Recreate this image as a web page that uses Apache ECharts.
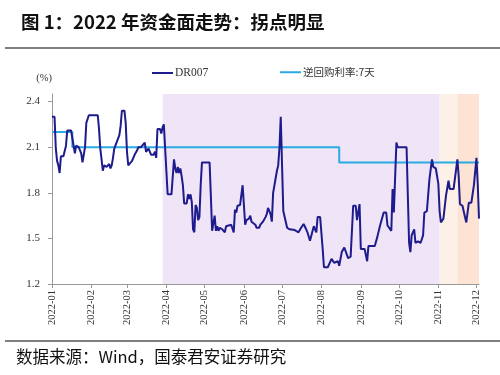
<!DOCTYPE html>
<html lang="zh">
<head>
<meta charset="UTF-8">
<title>2022 年资金面走势</title>
<script src="https://cdn.jsdelivr.net/npm/echarts@6/dist/echarts.min.js"></script>
<style>
  html, body { margin: 0; padding: 0; background: #fff; }
  #chart { width: 500px; height: 375px; }
</style>
</head>
<body>
<div id="chart"></div>
<script>
// DR007 daily
var drDates = [
  '2022-01-01','2022-01-03','2022-01-04','2022-01-05','2022-01-06','2022-01-07','2022-01-08','2022-01-10','2022-01-11','2022-01-12','2022-01-13','2022-01-16','2022-01-18','2022-01-19','2022-01-20','2022-01-22','2022-01-23','2022-01-24','2022-01-25','2022-01-26','2022-01-27','2022-01-28','2022-01-30',
  '2022-02-06','2022-02-07','2022-02-08','2022-02-09','2022-02-10','2022-02-11','2022-02-13','2022-02-15','2022-02-16','2022-02-17','2022-02-18','2022-02-19','2022-02-20','2022-02-23','2022-02-24','2022-02-25','2022-02-27','2022-02-28',
  '2022-03-01','2022-03-02','2022-03-03','2022-03-05','2022-03-06','2022-03-07','2022-03-09','2022-03-10','2022-03-12','2022-03-15','2022-03-16','2022-03-18','2022-03-20','2022-03-22','2022-03-23','2022-03-24','2022-03-25','2022-03-27','2022-03-28','2022-03-29','2022-03-30','2022-03-31',
  '2022-04-02','2022-04-05','2022-04-07','2022-04-08','2022-04-09','2022-04-10','2022-04-11','2022-04-12','2022-04-13','2022-04-14','2022-04-15','2022-04-17','2022-04-18','2022-04-19','2022-04-20','2022-04-21','2022-04-22','2022-04-23','2022-04-24','2022-04-25','2022-04-26','2022-04-27','2022-04-28','2022-04-29',
  '2022-05-05','2022-05-06','2022-05-07','2022-05-08','2022-05-09','2022-05-10','2022-05-11','2022-05-12','2022-05-13','2022-05-15','2022-05-17','2022-05-18','2022-05-22','2022-05-23','2022-05-24','2022-05-25','2022-05-26','2022-05-27','2022-05-29','2022-05-31',
  '2022-06-01','2022-06-02','2022-06-03','2022-06-05','2022-06-06','2022-06-07','2022-06-08','2022-06-10','2022-06-11','2022-06-13','2022-06-14','2022-06-16','2022-06-18','2022-06-19','2022-06-20','2022-06-22','2022-06-23','2022-06-24','2022-06-25','2022-06-27','2022-06-28','2022-06-29','2022-06-30',
  '2022-07-01','2022-07-02','2022-07-03','2022-07-05','2022-07-07','2022-07-11','2022-07-14','2022-07-16','2022-07-18','2022-07-20','2022-07-21','2022-07-23','2022-07-24','2022-07-26','2022-07-28','2022-07-29','2022-07-31',
  '2022-08-02','2022-08-03','2022-08-06','2022-08-07','2022-08-09','2022-08-11','2022-08-14','2022-08-15','2022-08-17','2022-08-19','2022-08-22','2022-08-24','2022-08-26','2022-08-28','2022-08-29','2022-08-31',
  '2022-09-01','2022-09-04','2022-09-06','2022-09-07','2022-09-12','2022-09-14','2022-09-16','2022-09-19','2022-09-21','2022-09-22','2022-09-25','2022-09-26','2022-09-27','2022-09-29','2022-09-30',
  '2022-10-07','2022-10-08','2022-10-09','2022-10-10','2022-10-11','2022-10-13','2022-10-14','2022-10-16','2022-10-18','2022-10-20','2022-10-21','2022-10-23','2022-10-25','2022-10-27','2022-10-28','2022-10-30',
  '2022-11-01','2022-11-02','2022-11-03','2022-11-05','2022-11-06','2022-11-07','2022-11-09','2022-11-10','2022-11-13','2022-11-14','2022-11-16','2022-11-17','2022-11-18','2022-11-20','2022-11-22','2022-11-23','2022-11-25','2022-11-27','2022-11-29',
  '2022-12-01','2022-12-02','2022-12-03'
];
var drValues = [
  2.30,2.30,2.09,2.01,1.98,1.93,2.04,2.04,2.05,2.11,2.21,2.21,2.11,2.06,2.11,2.10,2.10,2.06,2.00,1.99,2.10,2.26,2.31,
  2.31,2.22,2.09,2.02,1.945,1.98,1.97,1.99,1.96,1.98,2.03,2.09,2.10,2.18,2.24,2.34,2.34,2.26,
  2.07,1.98,1.98,2.01,2.03,2.05,2.08,2.10,2.10,2.13,2.07,2.09,2.05,2.05,2.07,2.03,2.22,2.22,2.19,2.23,2.25,2.24,
  1.79,1.79,2.02,1.96,1.93,1.97,1.93,1.96,1.91,1.85,1.73,1.73,1.79,1.76,1.79,1.74,1.56,1.54,1.72,1.70,1.62,1.64,1.85,2.00,
  2.00,1.78,1.55,1.56,1.65,1.55,1.58,1.55,1.57,1.56,1.54,1.58,1.59,1.59,1.54,1.69,1.67,1.715,1.72,1.85,
  1.72,1.59,1.62,1.63,1.65,1.61,1.62,1.59,1.57,1.57,1.59,1.61,1.64,1.66,1.70,1.66,1.61,1.80,1.80,1.945,1.98,2.10,2.30,
  1.99,1.68,1.67,1.57,1.56,1.555,1.54,1.57,1.595,1.56,1.54,1.485,1.485,1.58,1.54,1.64,1.64,
  1.43,1.31,1.31,1.30,1.365,1.34,1.35,1.32,1.41,1.44,1.37,1.38,1.715,1.715,1.62,1.726,
  1.43,1.43,1.35,1.45,1.45,1.51,1.58,1.67,1.67,1.585,1.55,1.825,1.67,2.13,2.10,
  2.10,1.78,1.47,1.41,1.52,1.56,1.47,1.48,1.47,1.52,1.67,1.68,1.89,2.02,1.97,1.96,
  1.86,1.68,1.605,1.63,1.64,1.78,1.88,1.825,1.825,1.89,2.02,1.91,1.726,1.715,1.64,1.605,1.735,1.735,1.85,
  2.03,1.86,1.63
];

// 7-day reverse repo rate, changes only
var repoDates = ['2022-01-01', '2022-01-17', '2022-08-15', '2022-12-03'];
var repoValues = [2.2, 2.1, 2.0, 2.0];

// shaded phases
var phaseStart = ['2022-03-29', '2022-11-02', '2022-11-16'];
var phaseEnd = ['2022-11-02', '2022-11-16', '2022-12-03'];
var phaseColors = ['#efe5f7', '#fdf0e6', '#fde3d3'];

var monthTicks = ['2022-01-01','2022-02-01','2022-03-01','2022-04-01','2022-05-01','2022-06-01',
  '2022-07-01','2022-08-01','2022-09-01','2022-10-01','2022-11-01','2022-12-01'];
var yTicks = [1.2, 1.5, 1.8, 2.1, 2.4];

function t(d) { return +echarts.time.parse(d); }

var chart = echarts.init(document.getElementById('chart'), null, { renderer: 'canvas' });

var drData = drDates.map(function (d, i) { return [t(d), drValues[i]]; });
var repoData = repoDates.map(function (d, i) { return [t(d), repoValues[i]]; });
var areas = phaseStart.map(function (s, i) {
  return [{ xAxis: t(s), itemStyle: { color: phaseColors[i] } }, { xAxis: t(phaseEnd[i]) }];
});
var tickTimes = monthTicks.map(t);

var serif = '"Liberation Serif", "Times New Roman", serif';
var cjk = '"Noto Sans CJK SC", sans-serif';

var option = {
  animation: false,
  backgroundColor: '#fff',
  title: {
    text: '图 1：2022 年资金面走势：拐点明显',
    left: 16, top: 8,
    textStyle: { fontFamily: cjk, fontWeight: 'bold', fontSize: 18.5, color: '#111' }
  },
  legend: [{
    data: ['DR007'],
    left: 147, top: 62,
    icon: 'rect',
    itemWidth: 21, itemHeight: 2,
    textStyle: { fontFamily: serif, fontSize: 11.5, color: '#333', padding: [0, 0, 0, -3] }
  }, {
    data: ['逆回购利率:7天'],
    left: 275, top: 62,
    icon: 'rect',
    itemWidth: 21, itemHeight: 2,
    textStyle: { fontFamily: cjk, fontSize: 10.5, color: '#333', padding: [0, 0, 0, -3] }
  }],
  grid: { left: 52, right: 21, top: 94, bottom: 91 },
  xAxis: {
    type: 'value',
    min: t('2022-01-01'),
    max: t('2022-12-03'),
    axisLine: { lineStyle: { color: '#999' } },
    axisTick: { show: true, length: 4, lineStyle: { color: '#999' }, customValues: tickTimes },
    splitLine: { show: false },
    axisLabel: {
      customValues: tickTimes,
      rotate: 90,
      margin: 6,
      fontFamily: serif,
      fontSize: 10.5,
      color: '#333',
      formatter: function (v) { return echarts.time.format(v, '{yyyy}-{MM}', false); }
    }
  },
  yAxis: {
    type: 'value',
    min: 1.2,
    max: 2.45,
    name: '(%)',
    nameLocation: 'end',
    nameGap: 10,
    nameTextStyle: { fontFamily: serif, fontSize: 10.5, color: '#333', align: 'right' },
    axisLine: { show: true, lineStyle: { color: '#999' } },
    axisTick: { show: true, length: 4, lineStyle: { color: '#999' }, customValues: yTicks },
    splitLine: { show: false },
    axisLabel: {
      customValues: yTicks,
      margin: 12,
      fontFamily: serif,
      fontSize: 11,
      color: '#333',
      formatter: function (v) { return v.toFixed(1); }
    }
  },
  series: [{
    name: 'DR007',
    type: 'line',
    z: 3,
    symbol: 'none',
    data: drData,
    lineStyle: { color: '#1e1b8c', width: 2 },
    itemStyle: { color: '#1e1b8c' },
    markArea: { silent: true, data: areas }
  }, {
    name: '逆回购利率:7天',
    type: 'line',
    z: 2,
    symbol: 'none',
    step: 'end',
    data: repoData,
    lineStyle: { color: '#2aaae2', width: 2 },
    itemStyle: { color: '#2aaae2' }
  }],
  graphic: [{
    type: 'line',
    shape: { x1: 5, y1: 48, x2: 500, y2: 48 },
    style: { stroke: '#555', lineWidth: 1.5 }
  }, {
    type: 'line',
    shape: { x1: 5, y1: 341, x2: 500, y2: 341 },
    style: { stroke: '#555', lineWidth: 1.5 }
  }, {
    type: 'text',
    left: 16, top: 348,
    style: { text: '数据来源：Wind，国泰君安证券研究', fontFamily: cjk, fontSize: 16.5, fill: '#111' }
  }]
};

chart.setOption(option);
</script>
</body>
</html>
